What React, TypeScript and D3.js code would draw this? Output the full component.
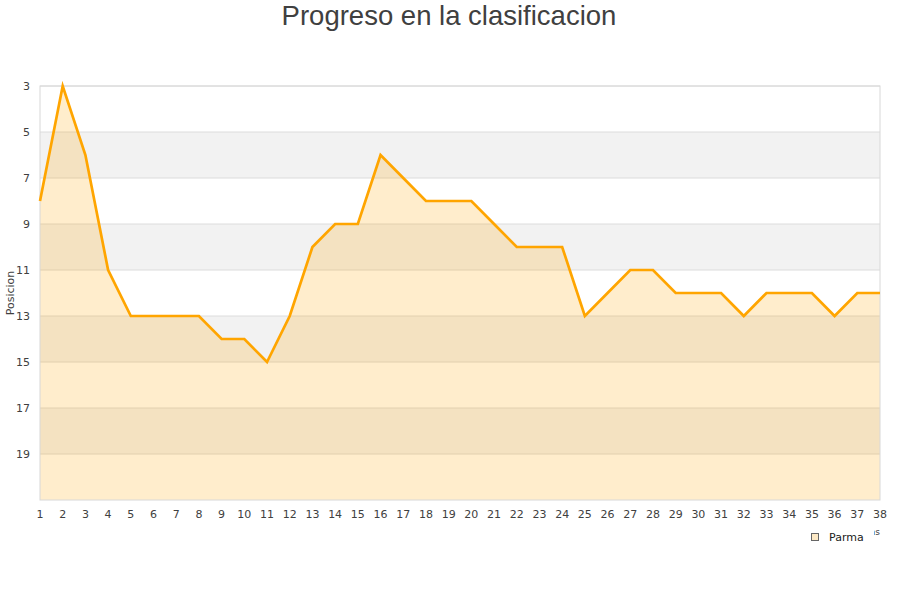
import React from "react";
import * as d3 from "d3";

const title = "Progreso en la clasificacion";
const seriesName = "Parma";
const jornadas = d3.range(1, 39);
const posiciones = [8, 3, 6, 11, 13, 13, 13, 13, 14, 14, 15, 13, 10, 9, 9, 6, 7, 8, 8, 8, 9, 10, 10, 10, 13, 12, 11, 11, 12, 12, 12, 13, 12, 12, 12, 13, 12, 12];
const yTicks = [3, 5, 7, 9, 11, 13, 15, 17, 19];

export default function App() {
  const W = 900, H = 600;
  const left = 40, right = 880, top = 86, bottom = 500;
  const x = d3.scaleLinear().domain([1, 38]).range([left, right]);
  const y = d3.scaleLinear().domain([3, 21]).range([top, bottom]);
  const bands = d3.range(3, 21, 2);
  const line = d3.line<number>().x((_, i) => x(jornadas[i])).y((d) => y(d));
  const area = d3.area<number>().x((_, i) => x(jornadas[i])).y0(y(21)).y1((d) => y(d));
  const font = "DejaVu Sans, Verdana, sans-serif";
  return (
    <svg width={W} height={H} style={{ position: "absolute", left: 0, top: 0 }}>
      <rect x={0} y={0} width={W} height={H} fill="#fff" />
      <text x={449} y={25} textAnchor="middle" fontFamily="Liberation Sans, Arial, sans-serif" fontSize={27.5} fill="#404040">{title}</text>
      {bands.map((b, i) => (
        <rect key={b} x={left} y={y(b)} width={right - left} height={y(b + 2) - y(b)} fill={i % 2 === 1 ? "#f2f2f2" : "#ffffff"} />
      ))}
      {yTicks.map((t) => (
        <line key={t} x1={left} x2={right} y1={y(t)} y2={y(t)} stroke="#dcdcdc" strokeWidth={1} />
      ))}
      <path d={area(posiciones) || ""} fill="rgba(255,165,0,0.2)" />
      <rect x={left} y={top} width={right - left} height={bottom - top} fill="none" stroke="#d8d8d8" strokeWidth={1} />
      <path d={line(posiciones) || ""} fill="none" stroke="#ffa500" strokeWidth={2.7} strokeLinejoin="miter" />
      {yTicks.map((t) => (
        <text key={t} x={30} y={y(t) + 4} textAnchor="end" fontFamily={font} fontSize={11} fill="#404040">{t}</text>
      ))}
      {jornadas.map((j) => (
        <text key={j} x={x(j)} y={518} textAnchor="middle" fontFamily={font} fontSize={11} fill="#404040">{j}</text>
      ))}
      <text transform={`translate(14,${(top + bottom) / 2}) rotate(-90)`} textAnchor="middle" fontFamily={font} fontSize={11} fill="#404040">Posicion</text>
      <text x={880} y={535} textAnchor="end" fontFamily={font} fontSize={9} fill="#404040">Jornadas</text>
      <rect x={800} y={527} width={74} height={22} fill="#fff" />
      <rect x={811.5} y={533.5} width={7} height={7} fill="#fde9c5" stroke="#666" strokeWidth={1} />
      <text x={829} y={541} fontFamily={font} fontSize={11} fill="#202020">{seriesName}</text>
    </svg>
  );
}
